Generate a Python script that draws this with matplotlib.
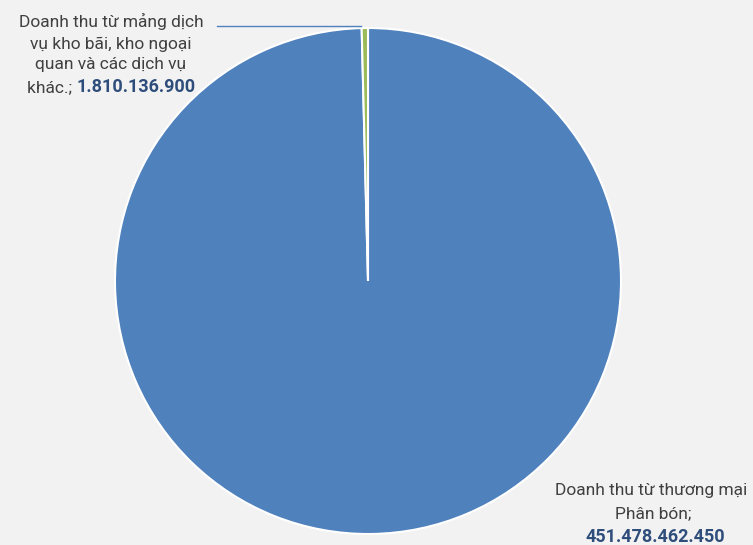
import matplotlib
matplotlib.use("Agg")
import matplotlib.pyplot as plt
from matplotlib.offsetbox import TextArea, HPacker, AnnotationBbox

labels = ["Doanh thu từ thương mại\nPhân bón", "Doanh thu từ mảng dịch\nvụ kho bãi, kho ngoại\nquan và các dịch vụ\nkhác."]
values = [451478462450, 1810136900]
value_text = ["451.478.462.450", "1.810.136.900"]
colors = ["#4f81bd", "#9bbb59"]

fam = ['Roboto', 'DejaVu Sans']
plt.rcParams['font.family'] = fam
W, H = 753, 545
fig = plt.figure(figsize=(W/100, H/100), dpi=100, facecolor="#f2f2f2")
ax = fig.add_axes([0, 0, 1, 1])
ax.set_facecolor("#f2f2f2")
cx, cy, r = 368, H - 281, 253
ax.pie(values, colors=colors, startangle=90, counterclock=False,
       center=(cx, cy), radius=r,
       wedgeprops=dict(edgecolor="white", linewidth=1.5))
ax.set_xlim(0, W)
ax.set_ylim(0, H)
ax.set_aspect("equal")
ax.axis("off")

lab_col = "#404040"
val_col = "#2e4d7b"
fs = 12.5
vfs = 13

# small slice label (top-left)
ax.plot([217, 361], [H - 26, H - 26], color="#4f81bd", lw=1)
small_lines = ["Doanh thu từ mảng dịch", "vụ kho bãi, kho ngoại", "quan và các dịch vụ"]
ys = [21, 44, 65]
for t, y in zip(small_lines, ys):
    ax.text(111, H - y, t, ha="center", va="center", fontsize=fs, color=lab_col)
ta1 = TextArea("khác.; ", textprops=dict(fontsize=fs, color=lab_col, family=fam))
ta2 = TextArea(value_text[1], textprops=dict(fontsize=vfs, color=val_col, fontweight="bold", family=fam))
box = HPacker(children=[ta1, ta2], align="baseline", pad=0, sep=0)
ab = AnnotationBbox(box, (111, H - 87), frameon=False, box_alignment=(0.5, 0.5), pad=0)
ax.add_artist(ab)

# big slice label (bottom-right)
ax.text(651, H - 490, "Doanh thu từ thương mại", ha="center", va="center", fontsize=fs, color=lab_col)
ax.text(653, H - 514, "Phân bón;", ha="center", va="center", fontsize=fs, color=lab_col)
ax.text(655, H - 537, value_text[0], ha="center", va="center", fontsize=vfs, color=val_col, fontweight="bold")

fig.savefig("out.png", dpi=100, facecolor=fig.get_facecolor())
